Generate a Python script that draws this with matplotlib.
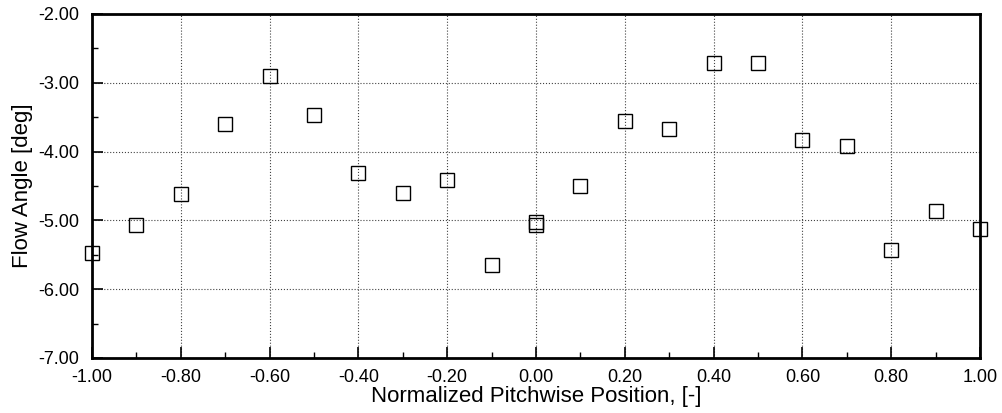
import matplotlib
matplotlib.use("Agg")
import matplotlib.pyplot as plt
from matplotlib.ticker import MultipleLocator, FormatStrFormatter

plt.rcParams['font.family'] = ['Liberation Sans', 'DejaVu Sans']

pitch = [-1.0, -0.9, -0.8, -0.7, -0.6, -0.5, -0.4, -0.3, -0.2, -0.1,
         0.0, 0.0, 0.1, 0.2, 0.3, 0.4, 0.5, 0.6, 0.7, 0.8, 0.9, 1.0]
angle = [-5.47, -5.07, -4.62, -3.60, -2.90, -3.47, -4.31, -4.60, -4.41, -5.65,
         -5.03, -5.07, -4.50, -3.56, -3.67, -2.71, -2.71, -3.83, -3.92, -5.43, -4.86, -5.13]

fig = plt.figure(figsize=(10.03, 4.13), dpi=100)
ax = fig.add_axes([92 / 1003, 55 / 413, 888 / 1003, 344 / 413])

ax.plot(pitch, angle, linestyle='none', marker='s', markersize=9.4,
        markerfacecolor='none', markeredgecolor='black', markeredgewidth=1.0,
        clip_on=False, zorder=3)

ax.set_xlim(-1, 1)
ax.set_ylim(-7, -2)
ax.xaxis.set_major_locator(MultipleLocator(0.2))
ax.xaxis.set_minor_locator(MultipleLocator(0.1))
ax.yaxis.set_major_locator(MultipleLocator(1.0))
ax.yaxis.set_minor_locator(MultipleLocator(0.5))
ax.xaxis.set_major_formatter(FormatStrFormatter('%.2f'))
ax.yaxis.set_major_formatter(FormatStrFormatter('%.2f'))

ax.tick_params(which='both', direction='in', top=False, right=False, labelsize=13)
ax.tick_params(axis='x', pad=8)
ax.tick_params(axis='y', pad=9)
ax.tick_params(which='major', length=8, width=1.2)
ax.tick_params(which='minor', length=4.5, width=1.0)

ax.grid(True, which='major', linestyle=':', color='#444444', linewidth=0.8)
for s in ax.spines.values():
    s.set_linewidth(2)

ax.set_xlabel('Normalized Pitchwise Position, [-]', fontsize=16, labelpad=0)
ax.set_ylabel('Flow Angle [deg]', fontsize=16, labelpad=4)

fig.savefig('out.png', dpi=100)
